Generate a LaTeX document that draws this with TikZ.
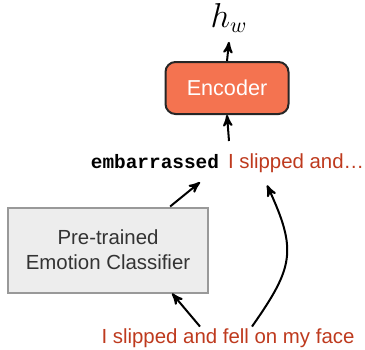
\documentclass[tikz,border=0pt]{standalone}
\usepackage{fontspec}
\setmainfont{Liberation Sans}
\setmonofont{Liberation Mono}
\usetikzlibrary{arrows}
\usetikzlibrary{positioning}
\tikzset{>=stealth'}
\definecolor{context}{RGB}{190, 58, 30}
\definecolor{encfill}{RGB}{244, 115, 80}
\tikzset{
	encbox/.style={draw=black!85, fill=encfill, rounded corners=5pt, text=white, minimum width=61.5pt, minimum height=26pt, font=\fontsize{10.8}{13}\selectfont},
	clsbox/.style={draw=black!40, fill=black!7, text=black!80, minimum width=100pt, minimum height=42.5pt, align=center},
	ctxtext/.style={text=context}
}

\begin{document}
\begin{tikzpicture}[x=0.5pt, y=-0.5pt, line width=1pt, font=\fontsize{10.2}{12.5}\selectfont]
				\useasboundingbox (0,0) rectangle (365,349);
				\node[encbox] (enc) at (227,88) {Encoder};
				\node[anchor=base, font=\fontsize{16}{18}\selectfont] (hw) at (229,27) {$h_w$};
				\node[anchor=base east, inner sep=0pt, font=\fontsize{9.7}{12}\selectfont\ttfamily\bfseries] (emo) at (220,168) {embarrassed};
				\node[ctxtext, anchor=base west, inner sep=0pt] (ctx) at (227,168) {I slipped and…};
				\node[clsbox] (cls) at (108,250) {Pre-trained\\Emotion Classifier};
				\node[ctxtext, anchor=base] (sent) at (228,343) {I slipped and fell on my face};
				\coordinate (encin) at (229,141);

				\draw[->] (enc.north) -- ([yshift=-1pt]hw.south);
				\draw[->] (encin) -- (enc.south);
				\draw[->] (cls.35) -- ([xshift=-10pt, yshift=-6.5pt]emo.south east);
				\draw[->] ([xshift=-14pt, yshift=-3pt]sent.north) -- ([xshift=1pt]cls.-35);
				\draw[->] ([xshift=12pt, yshift=-3pt]sent.north) to[out=55, in=-65, looseness=1.3] ([xshift=-14.5pt, yshift=-6pt]ctx.south);
			\end{tikzpicture}
\end{document}
